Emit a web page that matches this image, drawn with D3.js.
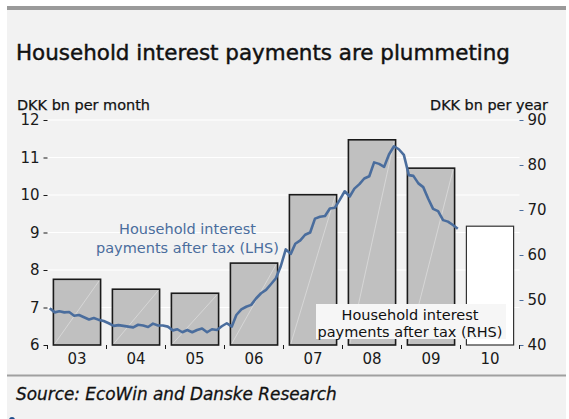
<!DOCTYPE html>
<html>
<head>
<meta charset="utf-8">
<script src="https://cdn.jsdelivr.net/npm/d3@7"></script>
<style>
  html, body { margin: 0; padding: 0; background: #ffffff; }
  svg { display: block; font-family: "DejaVu Sans", sans-serif; }
</style>
</head>
<body>
<svg id="chart" width="569" height="419"></svg>
<script>
// Annual household interest payments after tax, DKK bn per year (bars, right axis)
const years = ["03", "04", "05", "06", "07", "08", "09", "10"];
const annualPayments = [54.6, 52.4, 51.5, 58.2, 73.4, 85.6, 79.3, 66.4];

// Monthly household interest payments after tax, DKK bn per month (line, left axis), Jan 2003 - Dec 2009
const monthlyPayments = [
  6.98, 6.87, 6.90, 6.87, 6.88, 6.78, 6.80, 6.74, 6.68, 6.72, 6.67, 6.64,
  6.58, 6.51, 6.53, 6.51, 6.49, 6.47, 6.54, 6.52, 6.48, 6.57, 6.52, 6.52,
  6.49, 6.39, 6.42, 6.34, 6.40, 6.34, 6.40, 6.44, 6.34, 6.42, 6.40, 6.50,
  6.58, 6.49, 6.80, 6.95, 7.02, 7.07, 7.24, 7.38, 7.47, 7.62, 7.78, 8.10,
  8.55, 8.43, 8.70, 8.79, 8.94, 9.00, 9.37, 9.42, 9.44, 9.64, 9.66, 9.87,
  10.10, 9.96, 10.17, 10.29, 10.44, 10.50, 10.87, 10.83, 10.75, 11.08, 11.30, 11.22,
  11.07, 10.53, 10.51, 10.31, 10.21, 9.90, 9.63, 9.57, 9.33, 9.29, 9.20, 9.10
];

const leftTicks = [6, 7, 8, 9, 10, 11, 12];
const rightTicks = [40, 50, 60, 70, 80, 90];
const forecastYear = "10";

const svg = d3.select("#chart");
const W = 569, H = 419;
const plot = { left: 47.5, right: 519.5, top: 120, bottom: 345 };
const blue = "#4a6d9d";
const ink = "#1a1a1a";

// Panel background and rules
svg.append("rect").attr("x", 7).attr("y", 6).attr("width", 559).attr("height", H - 6).attr("fill", "#f2f2f2");
svg.append("rect").attr("x", 7).attr("y", 6).attr("width", 559).attr("height", 4).attr("fill", "#9a9a9a");
svg.append("rect").attr("x", 7).attr("y", 374.5).attr("width", 559).attr("height", 2).attr("fill", "#a0a0a0");

// Fit a text element's width by scaling its font size
function fitWidth(sel, target) {
  const w = sel.node().getComputedTextLength();
  const fs = parseFloat(sel.attr("font-size"));
  sel.attr("font-size", (fs * target / w).toFixed(2));
}

const title = svg.append("text")
  .attr("x", 16).attr("y", 60)
  .attr("font-size", 20).attr("fill", "#111")
  .attr("stroke", "#111").attr("stroke-width", 0.45)
  .text("Household interest payments are plummeting");
fitWidth(title, 494);

// Scales
const x = d3.scaleBand().domain(years).range([plot.left, plot.right]).paddingInner(0.2).paddingOuter(0.1);
const xTime = d3.scaleTime()
  .domain([new Date(2003, 0, 1), new Date(2011, 0, 1)])
  .range([plot.left, plot.right]);
const yL = d3.scaleLinear().domain([6, 12]).range([plot.bottom, plot.top]);
const yR = d3.scaleLinear().domain([40, 90]).range([plot.bottom, plot.top]);

// Gridlines on the left-axis ticks
svg.append("g").selectAll("line")
  .data(leftTicks.filter(d => d > 6))
  .join("line")
  .attr("x1", plot.left).attr("x2", plot.right)
  .attr("y1", d => yL(d)).attr("y2", d => yL(d))
  .attr("stroke", "#ffffff").attr("stroke-width", 1.2);

// Annual bars
const barData = years.map((y, i) => ({ year: y, value: annualPayments[i] }));
const bars = svg.append("g");
bars.selectAll("rect")
  .data(barData)
  .join("rect")
  .attr("x", d => x(d.year))
  .attr("y", d => yR(d.value))
  .attr("width", x.bandwidth())
  .attr("height", d => yR(40) - yR(d.value))
  .attr("fill", d => d.year === forecastYear ? "#ffffff" : "#c0c0c0")
  .attr("stroke", d => d.year === forecastYear ? "#333333" : ink)
  .attr("stroke-width", d => d.year === forecastYear ? 1.2 : 1.6);

// Faint sheen diagonal inside each filled bar
bars.selectAll("line.sheen")
  .data(barData.filter(d => d.year !== forecastYear))
  .join("line")
  .attr("class", "sheen")
  .attr("x1", d => x(d.year) + 1.5).attr("y1", yR(40) - 1.5)
  .attr("x2", d => x(d.year) + x.bandwidth() - 1.5).attr("y2", d => yR(d.value) + 1.5)
  .attr("stroke", "#dcdcdc").attr("stroke-width", 0.8);

// Monthly line
const line = d3.line()
  .x((d, i) => xTime(new Date(2003, i, 15)))
  .y(d => yL(d));
svg.append("path")
  .datum(monthlyPayments)
  .attr("d", line)
  .attr("fill", "none")
  .attr("stroke", blue)
  .attr("stroke-width", 2.6)
  .attr("stroke-linejoin", "round");

// Left axis
const axL = svg.append("g")
  .attr("transform", `translate(${plot.left},0)`)
  .call(d3.axisLeft(yL).tickValues(leftTicks).tickFormat(d3.format("d")).tickSize(4).tickPadding(4));
axL.select(".domain").remove();
axL.selectAll(".tick line").attr("stroke", ink);
axL.selectAll(".tick text").attr("font-size", 15).attr("fill", "#1a1a1a").attr("font-family", "DejaVu Sans");

// Right axis
const axR = svg.append("g")
  .attr("transform", `translate(${plot.right},0)`)
  .call(d3.axisRight(yR).tickValues(rightTicks).tickFormat(d3.format("d")).tickSize(4).tickPadding(4));
axR.select(".domain").remove();
axR.selectAll(".tick line").attr("stroke", blue);
axR.selectAll(".tick text").attr("font-size", 15).attr("fill", "#1a1a1a").attr("font-family", "DejaVu Sans");

// Category axis: labels centred in bands, ticks on band boundaries
const axB = svg.append("g")
  .attr("transform", `translate(0,${plot.bottom})`)
  .call(d3.axisBottom(x).tickSize(0).tickPadding(8));
axB.select(".domain").remove();
axB.selectAll(".tick text").attr("font-size", 15).attr("fill", "#1a1a1a").attr("font-family", "DejaVu Sans");
const boundaries = years.map(y => x(y) - x.step() * x.paddingInner() / 2).concat([plot.right]);
svg.append("g").selectAll("line")
  .data(boundaries)
  .join("line")
  .attr("x1", d => d).attr("x2", d => d)
  .attr("y1", plot.bottom).attr("y2", plot.bottom + 4)
  .attr("stroke", ink).attr("stroke-width", 1);

// Axis titles
const tl = svg.append("text").attr("x", 17).attr("y", 109.5)
  .attr("font-size", 14).attr("fill", "#111").attr("stroke", "#111").attr("stroke-width", 0.25)
  .text("DKK bn per month");
fitWidth(tl, 133);
const tr = svg.append("text").attr("x", 548).attr("y", 109.5).attr("text-anchor", "end")
  .attr("font-size", 14).attr("fill", "#111").attr("stroke", "#111").attr("stroke-width", 0.25)
  .text("DKK bn per year");
fitWidth(tr, 118);

// Series labels
const lhsLabel = svg.append("text").attr("text-anchor", "middle").attr("fill", blue).attr("font-size", 14.5);
lhsLabel.append("tspan").attr("x", 187.5).attr("y", 234).text("Household interest");
lhsLabel.append("tspan").attr("x", 187.5).attr("y", 253).text("payments after tax (LHS)");

svg.append("rect").attr("x", 316).attr("y", 304).attr("width", 190).attr("height", 35)
  .attr("fill", "#f6f6f6");
const rhsLabel = svg.append("text").attr("text-anchor", "middle").attr("fill", "#111").attr("font-size", 14.5);
rhsLabel.append("tspan").attr("x", 410).attr("y", 320).text("Household interest");
rhsLabel.append("tspan").attr("x", 410).attr("y", 337).text("payments after tax (RHS)");

// Source line
const src = svg.append("text").attr("x", 16).attr("y", 400)
  .attr("font-size", 15).attr("font-style", "italic").attr("fill", "#111")
  .attr("stroke", "#111").attr("stroke-width", 0.3)
  .text("Source: EcoWin and Danske Research");
fitWidth(src, 321);

svg.append("circle").attr("cx", 12).attr("cy", 420).attr("r", 3).attr("fill", "#1f4e8c");
</script>
</body>
</html>
